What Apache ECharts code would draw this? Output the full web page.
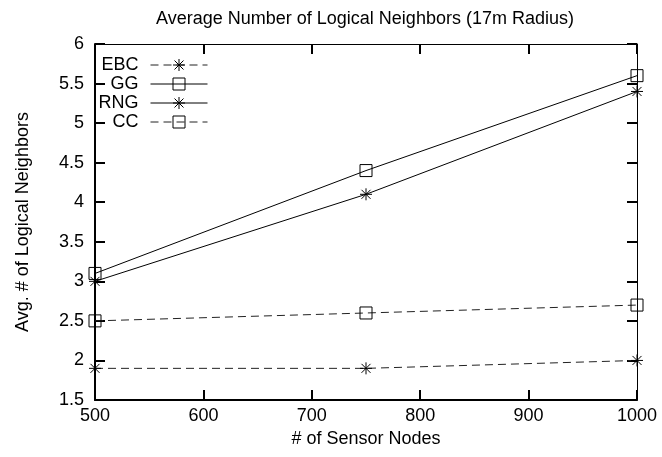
<!DOCTYPE html>
<html>
<head>
<meta charset="utf-8">
<script src="https://cdn.jsdelivr.net/npm/echarts@6/dist/echarts.min.js"></script>
<style>html,body{margin:0;padding:0;background:#fff}#c{width:662px;height:457px}</style>
</head>
<body>
<div id="c"></div>
<script>
var nodes = [500, 750, 1000];
var seriesNames = ['EBC', 'GG', 'RNG', 'CC'];
var ebc = [1.9, 1.9, 2.0];
var gg = [3.1, 4.4, 5.6];
var rng = [3.0, 4.1, 5.4];
var cc = [2.5, 2.6, 2.7];
var xTicks = [500, 600, 700, 800, 900, 1000];
var yTicks = [1.5, 2, 2.5, 3, 3.5, 4, 4.5, 5, 5.5, 6];

var FONT = '"Liberation Sans", Arial, sans-serif';
var FS = 18;
var TICKC = '#000';
var star = 'path://M0,-1L0,1M-1,0L1,0M-0.75,-0.75L0.75,0.75M-0.75,0.75L0.75,-0.75';
var square = 'path://M-1,-1L1,-1L1,1L-1,1Z';

function pairs(vals) { return nodes.map(function (n, i) { return [n, vals[i]]; }); }

var values = [ebc, gg, rng, cc];
var symbols = [star, square, star, square];
var dashed = [true, false, false, true];

var series = seriesNames.map(function (name, i) {
  return {
    name: name, type: 'line', data: pairs(values[i]),
    symbol: symbols[i], symbolSize: 12,
    showAllSymbol: true,
    lineStyle: { color: dashed[i] ? '#222' : '#000', width: 1, type: dashed[i] ? [8, 5] : 'solid' },
    itemStyle: { color: 'transparent', borderColor: '#000', borderWidth: 1 },
    emphasis: { disabled: true },
    animation: false
  };
});

var legendTops = [56, 75, 94, 113];
var legends = seriesNames.map(function (name, i) {
  return {
    data: [{ name: name, itemStyle: { color: 'transparent', borderColor: '#000', borderWidth: 1 }, lineStyle: { width: 1 } }],
    orient: 'vertical', align: 'right',
    right: 454, top: legendTops[i],
    itemWidth: 57, itemHeight: 15, padding: 0,
    itemStyle: { color: 'transparent', borderColor: '#000', borderWidth: 1 },
    lineStyle: { width: 1 },
    formatter: '{a|{name}}',
    textStyle: { color: '#000', fontFamily: FONT, fontSize: FS, rich: { a: { fontFamily: FONT, fontSize: FS, color: '#000', padding: [0, 7, 0, 0] } } },
    selectedMode: false
  };
});

var chart = echarts.init(document.getElementById('c'), null, { renderer: 'canvas' });
chart.setOption({
  backgroundColor: '#fff',
  animation: false,
  title: {
    text: 'Average Number of Logical Neighbors (17m Radius)',
    left: 360, top: 5, textAlign: 'center',
    textStyle: { fontFamily: FONT, fontSize: FS, fontWeight: 'normal', color: '#000' }
  },
  legend: legends,
  grid: { left: 95, right: 25, top: 44, bottom: 57 },
  xAxis: [{
    type: 'value', min: xTicks[0], max: xTicks[xTicks.length - 1], interval: 100,
    name: '# of Sensor Nodes', nameLocation: 'middle', nameGap: 29,
    nameTextStyle: { fontFamily: FONT, fontSize: FS, color: '#000' },
    axisLine: { show: true, lineStyle: { color: '#000', width: 2 } },
    axisTick: { show: true, inside: true, length: 10, lineStyle: { color: TICKC, width: 2 } },
    axisLabel: { fontFamily: FONT, fontSize: FS, color: '#000', margin: 7, formatter: function (v) { return String(v); } },
    splitLine: { show: false }
  }, {
    type: 'value', position: 'top', min: xTicks[0], max: xTicks[xTicks.length - 1], interval: 100,
    axisLine: { show: true, lineStyle: { color: '#000', width: 1 } },
    axisTick: { show: true, inside: true, length: 10, lineStyle: { color: TICKC, width: 2 } },
    axisLabel: { show: false }, splitLine: { show: false }
  }],
  yAxis: [{
    type: 'value', min: yTicks[0], max: yTicks[yTicks.length - 1], interval: 0.5,
    name: 'Avg. # of Logical Neighbors', nameLocation: 'middle', nameGap: 63, nameRotate: 90,
    nameTextStyle: { fontFamily: FONT, fontSize: FS, color: '#000' },
    axisLine: { show: true, lineStyle: { color: '#000', width: 2 } },
    axisTick: { show: true, inside: true, length: 10, lineStyle: { color: TICKC, width: 2 } },
    axisLabel: { fontFamily: FONT, fontSize: FS, color: '#000', margin: 11 },
    splitLine: { show: false }
  }, {
    type: 'value', position: 'right', min: yTicks[0], max: yTicks[yTicks.length - 1], interval: 0.5,
    axisLine: { show: true, lineStyle: { color: '#000', width: 1 } },
    axisTick: { show: true, inside: true, length: 10, lineStyle: { color: TICKC, width: 2 } },
    axisLabel: { show: false }, splitLine: { show: false }
  }],
  series: series
});
</script>
</body>
</html>
